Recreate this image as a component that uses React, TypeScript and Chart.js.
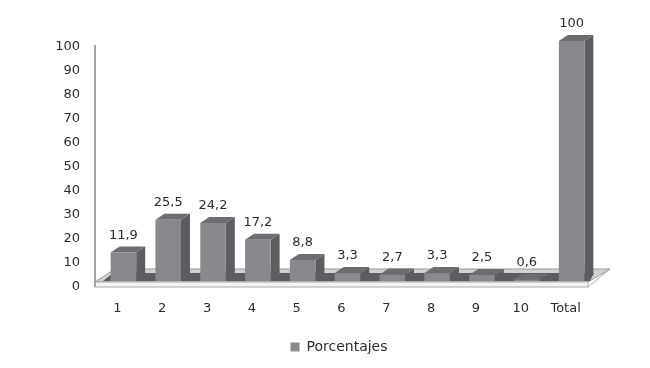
import React, { useEffect, useRef } from "react";
import { Chart, registerables } from "chart.js";

Chart.register(...registerables);

const categories = ["1", "2", "3", "4", "5", "6", "7", "8", "9", "10", "Total"];
const porcentajes = [11.9, 25.5, 24.2, 17.2, 8.8, 3.3, 2.7, 3.3, 2.5, 0.6, 100];
const valueLabels = ["11,9", "25,5", "24,2", "17,2", "8,8", "3,3", "2,7", "3,3", "2,5", "0,6", "100"];

const FONT = "'DejaVu Sans'";
const TEXT = "#2c2c2c";
const DX = 9;
const DY = 6;

const depthPlugin = {
  id: "depth",
  afterLayout(chart: any) {
    chart.legend.left += 42;
    chart.legend.right += 42;
  },
  beforeDatasetsDraw(chart: any) {
    const { ctx, chartArea: a } = chart;
    const b = a.bottom;
    const l = a.left - 6;
    const r = a.right - 6;
    ctx.save();
    // back strip of the floor
    ctx.fillStyle = "#d2d2d2";
    ctx.strokeStyle = "#9a9a9a";
    ctx.lineWidth = 1;
    ctx.beginPath();
    ctx.moveTo(l, b + 1);
    ctx.lineTo(l + 20, b - 12);
    ctx.lineTo(r + 22, b - 12);
    ctx.lineTo(r, b + 1);
    ctx.closePath();
    ctx.fill();
    ctx.stroke();
    // shadow band on the floor
    ctx.fillStyle = "#5c5d60";
    ctx.beginPath();
    ctx.moveTo(l + 8, b);
    ctx.lineTo(l + 18, b - 8);
    ctx.lineTo(r + 6, b - 8);
    ctx.lineTo(r + 2, b);
    ctx.closePath();
    ctx.fill();
    // front edge of the floor
    ctx.fillStyle = "#f4f4f4";
    ctx.strokeStyle = "#a8a8a8";
    ctx.fillRect(l, b + 1, r - l, 5);
    ctx.strokeRect(l, b + 1, r - l, 5);
    ctx.beginPath();
    ctx.moveTo(r, b + 6);
    ctx.lineTo(r + 22, b - 12);
    ctx.stroke();
    // vertical axis line
    ctx.strokeStyle = "#a4a4a4";
    ctx.lineWidth = 2;
    ctx.beginPath();
    ctx.moveTo(l, a.top + 4);
    ctx.lineTo(l, b + 6);
    ctx.stroke();

    // depth faces of each bar
    const bars = chart.getDatasetMeta(0).data;
    bars.forEach((bar: any) => {
      const p = bar.getProps(["x", "y", "base", "width"], true);
      const x0 = p.x - p.width / 2;
      const x1 = p.x + p.width / 2;
      ctx.fillStyle = "#5c5d60";
      ctx.beginPath();
      ctx.moveTo(x1, p.y);
      ctx.lineTo(x1 + DX, p.y - DY);
      ctx.lineTo(x1 + DX, p.base - DY);
      ctx.lineTo(x1, p.base);
      ctx.closePath();
      ctx.fill();
      ctx.fillStyle = "#6c6d70";
      ctx.beginPath();
      ctx.moveTo(x0, p.y);
      ctx.lineTo(x0 + DX, p.y - DY);
      ctx.lineTo(x1 + DX, p.y - DY);
      ctx.lineTo(x1, p.y);
      ctx.closePath();
      ctx.fill();
    });
    ctx.restore();
  },
  afterDatasetsDraw(chart: any) {
    const { ctx } = chart;
    ctx.save();
    ctx.fillStyle = TEXT;
    ctx.font = `13px ${FONT}`;
    ctx.textAlign = "center";
    ctx.textBaseline = "middle";
    chart.getDatasetMeta(0).data.forEach((bar: any, i: number) => {
      ctx.fillText(valueLabels[i], bar.x, bar.y - 17);
    });
    ctx.restore();
  },
};

export default function App() {
  const ref = useRef<HTMLCanvasElement>(null);
  useEffect(() => {
    const chart = new Chart(ref.current!, {
      type: "bar",
      data: {
        labels: categories,
        datasets: [
          {
            label: "Porcentajes",
            data: porcentajes,
            backgroundColor: "#88898c",
            borderWidth: 0,
            barPercentage: 0.57,
            categoryPercentage: 1,
          },
        ],
      },
      options: {
        responsive: false,
        animation: false,
        layout: { padding: { top: 41, right: 56, bottom: 4, left: 0 } },
        plugins: {
          tooltip: { enabled: false },
          legend: {
            position: "bottom",
            labels: {
              boxWidth: 9,
              boxHeight: 9,
              color: TEXT,
              padding: 10,
              font: { family: FONT, size: 14 },
            },
          },
        },
        scales: {
          x: {
            grid: { display: false },
            border: { display: false },
            ticks: {
              color: TEXT,
              padding: 12,
              labelOffset: -6,
              maxRotation: 0,
              autoSkip: false,
              font: { family: FONT, size: 13 },
            },
            afterFit(s: any) {
              s.height = 49;
            },
          },
          y: {
            min: 0,
            max: 100,
            grid: { display: false, drawTicks: false },
            border: { display: false },
            ticks: {
              color: TEXT,
              stepSize: 10,
              padding: 21,
              labelOffset: 6,
              font: { family: FONT, size: 13 },
            },
            afterFit(s: any) {
              s.width = 101;
            },
          },
        },
      },
      plugins: [depthPlugin],
    } as any);
    return () => chart.destroy();
  }, []);
  return (
    <div style={{ position: "absolute", left: 0, top: 0, width: 650, height: 368, background: "#fff" }}>
      <canvas ref={ref} width={650} height={368} style={{ display: "block", filter: "blur(0.6px)" }} />
    </div>
  );
}
